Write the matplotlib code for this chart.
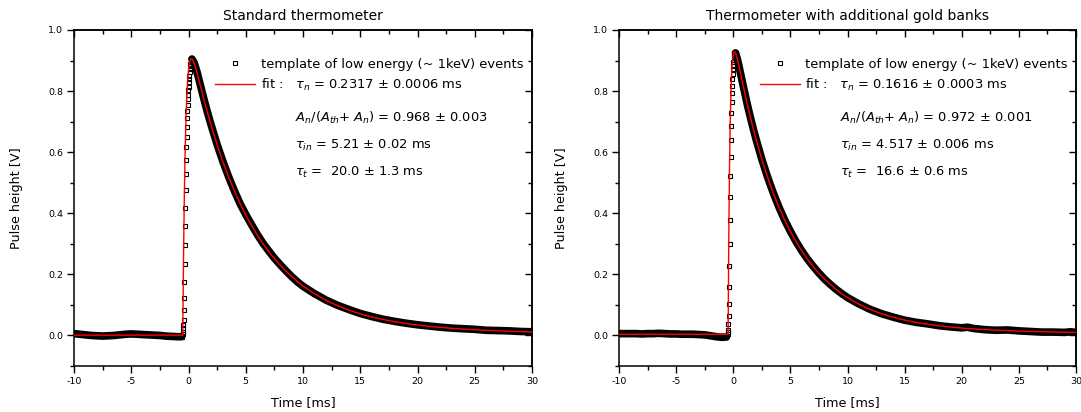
import numpy as np
import matplotlib
matplotlib.use("Agg")
import matplotlib.pyplot as plt
from matplotlib.ticker import MultipleLocator, FormatStrFormatter

plt.rcParams["font.family"] = ["DejaVu Sans"]
plt.rcParams["mathtext.fontset"] = "dejavusans"
plt.rcParams["axes.unicode_minus"] = False

# ---------------- pulse template data (time in ms, height in V) ----------------
# standard thermometer
std_base_t = [-10, -9.5, -9, -8.5, -8, -7.5, -7, -6.5, -6, -5.5, -5, -4.5, -4,
              -3.5, -3, -2.5, -2, -1.5, -1, -0.6]
std_base_v = [0.006, 0.004, 0.002, 0.000, -0.001, -0.002, -0.001, 0.000, 0.002,
              0.004, 0.005, 0.004, 0.003, 0.002, 0.001, 0.000, -0.002, -0.003,
              -0.004, -0.004]
std_rise_v = [0.004, 0.012, 0.023, 0.034, 0.052, 0.083, 0.124, 0.175, 0.235,
              0.297, 0.359, 0.418, 0.475, 0.527, 0.573, 0.616, 0.651, 0.682,
              0.712, 0.736, 0.756, 0.773, 0.788, 0.802, 0.815, 0.829, 0.840,
              0.851, 0.861, 0.872, 0.883, 0.890, 0.896, 0.900, 0.903, 0.905]
std_rise_start = -0.52
std_decay_t = [0.3, 0.5, 0.75, 1.0, 1.25, 1.5, 1.75, 2.0, 2.5, 3.0, 3.5, 4.0,
               4.5, 5.0, 5.5, 6.0, 6.5, 7.0, 7.5, 8.0, 8.5, 9.0, 9.5, 10, 11,
               12, 13, 14, 15, 16, 17, 18, 19, 20, 21, 22, 23, 24, 25, 26, 27,
               28, 29, 30]
std_decay_v = [0.905, 0.892, 0.862, 0.825, 0.788, 0.752, 0.718, 0.686, 0.625,
               0.570, 0.520, 0.474, 0.432, 0.396, 0.363, 0.331, 0.302, 0.277,
               0.253, 0.232, 0.212, 0.193, 0.176, 0.161, 0.137, 0.116, 0.099,
               0.085, 0.072, 0.062, 0.053, 0.046, 0.040, 0.035, 0.031, 0.027,
               0.024, 0.022, 0.020, 0.017, 0.016, 0.015, 0.013, 0.012]

# thermometer with additional gold banks
gold_base_t = std_base_t
gold_base_v = [0.006, 0.006, 0.006, 0.006, 0.005, 0.006, 0.006, 0.007, 0.006,
               0.005, 0.005, 0.004, 0.004, 0.004, 0.003, 0.002, -0.001, -0.004,
               -0.006, -0.005]
gold_rise_v = [0.005, 0.010, 0.017, 0.037, 0.063, 0.104, 0.159, 0.226, 0.300,
               0.378, 0.453, 0.523, 0.585, 0.640, 0.687, 0.729, 0.763, 0.793,
               0.818, 0.838, 0.855, 0.872, 0.883, 0.894, 0.903, 0.910, 0.916,
               0.920, 0.923, 0.925]
gold_rise_start = -0.50
gold_decay_t = [0.2, 0.35, 0.5, 0.75, 1.0, 1.25, 1.5, 1.75, 2.0, 2.5, 3.0, 3.5,
                4.0, 4.5, 5.0, 5.5, 6.0, 6.5, 7.0, 7.5, 8.0, 8.5, 9.0, 9.5, 10,
                11, 12, 13, 14, 15, 16, 17, 18, 19, 20, 20.5, 21, 22, 23, 24,
                25, 26, 27, 28, 29, 29.5, 30]
gold_decay_v = [0.925, 0.906, 0.882, 0.838, 0.795, 0.753, 0.714, 0.677, 0.642,
                0.577, 0.519, 0.467, 0.420, 0.378, 0.341, 0.307, 0.277, 0.250,
                0.226, 0.204, 0.184, 0.167, 0.151, 0.137, 0.124, 0.103, 0.085,
                0.071, 0.060, 0.050, 0.043, 0.038, 0.032, 0.028, 0.025, 0.027,
                0.023, 0.019, 0.017, 0.018, 0.015, 0.013, 0.011, 0.011, 0.010,
                0.012, 0.010]

sample_step = 0.022  # ms between template samples on the rising edge

# ---------------- fit parameters ----------------
std_fit = dict(tau_n=0.2317, ratio=0.968, tau_in=5.21, tau_t=20.0,
               amplitude=1.09, onset=-0.50, offset=0.001)
gold_fit = dict(tau_n=0.1616, ratio=0.972, tau_in=4.517, tau_t=16.6,
                amplitude=1.082, onset=-0.45, offset=0.004)

std_labels = [r"fit :   $\tau_n$ = 0.2317 ± 0.0006 ms",
              r"$A_n$/($A_{th}$+ $A_n$) = 0.968 ± 0.003",
              r"$\tau_{in}$ = 5.21 ± 0.02 ms",
              r"$\tau_t$ =  20.0 ± 1.3 ms"]
gold_labels = [r"fit :   $\tau_n$ = 0.1616 ± 0.0003 ms",
               r"$A_n$/($A_{th}$+ $A_n$) = 0.972 ± 0.001",
               r"$\tau_{in}$ = 4.517 ± 0.006 ms",
               r"$\tau_t$ =  16.6 ± 0.6 ms"]

titles = ["Standard thermometer", "Thermometer with additional gold banks"]
template_label = "template of low energy (~ 1keV) events"

TEXT_SIZE = 9.4


def pulse_model(t, tau_n, ratio, tau_in, tau_t, amplitude, onset, offset):
    u = np.clip(t - onset, 0, None)
    a_n, a_t = ratio, 1.0 - ratio
    shape = (a_n * np.exp(-u / tau_in) + a_t * np.exp(-u / tau_t)
             - np.exp(-u / tau_n))
    return offset + amplitude * shape


def draw_panel(ax, base_t, base_v, rise_start, rise_v, decay_t, decay_v,
               fit, labels, title):
    rise_t = rise_start + sample_step * np.arange(len(rise_v))
    all_t = np.concatenate([base_t, rise_t, decay_t])
    all_v = np.concatenate([base_v, rise_v, decay_v])

    # dense template band (baseline and decay)
    ax.plot(base_t, base_v, color="black", lw=5.5, solid_capstyle="round",
            zorder=2)
    ax.plot(decay_t, decay_v, color="black", lw=5.5, solid_capstyle="round",
            zorder=2)
    markers, = ax.plot(all_t, all_v, ls="none", marker="s", ms=3.2,
                       mfc="none", mec="black", mew=0.8, zorder=3)

    tt = np.linspace(-10, 30, 4001)
    fit_line, = ax.plot(tt, pulse_model(tt, **fit), color="red", lw=1.0,
                        zorder=4)

    ax.set_xlim(-10, 30)
    ax.set_ylim(-0.1, 1.0)
    ax.xaxis.set_major_locator(MultipleLocator(5))
    ax.xaxis.set_minor_locator(MultipleLocator(2.5))
    ax.yaxis.set_major_locator(MultipleLocator(0.2))
    ax.yaxis.set_minor_locator(MultipleLocator(0.1))
    ax.xaxis.set_major_formatter(FormatStrFormatter("%d"))
    ax.yaxis.set_major_formatter(FormatStrFormatter("%.1f"))
    ax.tick_params(which="both", direction="out", labelsize=6.8, width=1.0)
    ax.tick_params(which="major", length=5, pad=3)
    ax.tick_params(which="minor", length=3)
    for sp in ax.spines.values():
        sp.set_linewidth(1.1)

    # mirrored inward ticks on top and right
    top = ax.secondary_xaxis("top")
    right = ax.secondary_yaxis("right")
    for sec in (top, right):
        sec.tick_params(which="both", direction="in", width=1.0,
                        labeltop=False, labelright=False)
        sec.tick_params(which="major", length=5)
        sec.tick_params(which="minor", length=3)
        sec.spines[:].set_linewidth(1.1)
    top.xaxis.set_major_locator(MultipleLocator(5))
    top.xaxis.set_minor_locator(MultipleLocator(2.5))
    right.yaxis.set_major_locator(MultipleLocator(0.2))
    right.yaxis.set_minor_locator(MultipleLocator(0.1))

    ax.set_xlabel("Time [ms]", fontsize=9.2, labelpad=7)
    ax.set_ylabel("Pulse height [V]", fontsize=9.2, labelpad=18)
    ax.set_title(title, fontsize=10, pad=7)

    ax.legend([markers, fit_line], [template_label, labels[0]],
              loc="upper left", bbox_to_anchor=(0.308, 0.918), frameon=False,
              fontsize=TEXT_SIZE, handlelength=3.06, handletextpad=0.44,
              labelspacing=0.45, borderpad=0, borderaxespad=0)
    for text, y in zip(labels[1:], [0.726, 0.645, 0.565]):
        ax.text(0.4825, y, text, transform=ax.transAxes, fontsize=TEXT_SIZE,
                va="baseline", ha="left")


fig = plt.figure(figsize=(10.81, 4.12), dpi=100)
ax1 = fig.add_axes([74 / 1081, 46 / 412, 458 / 1081, 336 / 412])
ax2 = fig.add_axes([619 / 1081, 46 / 412, 457 / 1081, 336 / 412])

draw_panel(ax1, std_base_t, std_base_v, std_rise_start, std_rise_v,
           std_decay_t, std_decay_v, std_fit, std_labels, titles[0])
draw_panel(ax2, gold_base_t, gold_base_v, gold_rise_start, gold_rise_v,
           gold_decay_t, gold_decay_v, gold_fit, gold_labels, titles[1])

fig.savefig("out.png", dpi=100)
